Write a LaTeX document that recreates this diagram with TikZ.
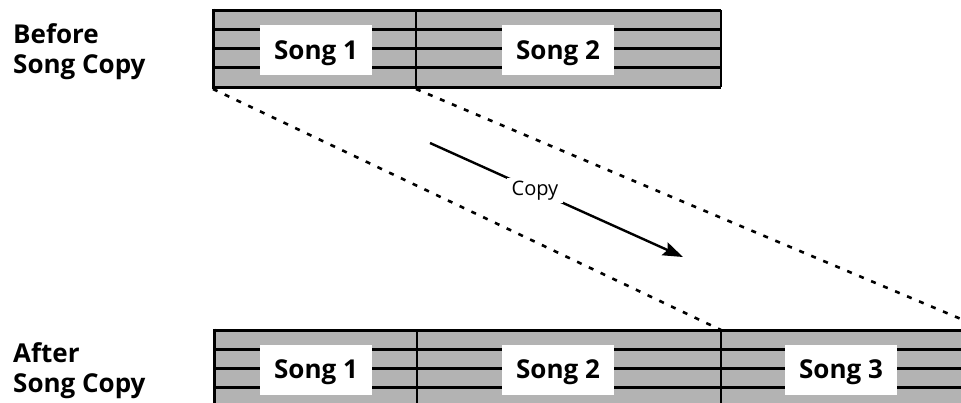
\documentclass[tikz,border=0pt]{standalone}
\usepackage{fontspec}
\setmainfont{Open Sans}
\usetikzlibrary{arrows.meta}
\definecolor{barfill}{RGB}{179,179,179}
\begin{document}
\begin{tikzpicture}[x=1pt,y=-1pt,
  songbox/.style={fill=white, minimum width=112pt, minimum height=50pt, inner sep=0pt,
    font=\fontsize{26}{30}\selectfont\bfseries, text height=18.5pt, text depth=0pt},
  stripe/.style={line width=3pt},
  divider/.style={line width=1.8pt},
  dashline/.style={line width=2.6pt, dash pattern=on 5pt off 8pt},
  sidelabel/.style={anchor=base west, inner sep=0pt, font=\fontsize{26}{30}\selectfont\bfseries},
  copyarrow/.style={line width=2.4pt, -{Stealth[length=20pt,width=14pt,inset=3pt]}},
  copylabel/.style={fill=white, inner xsep=5pt, inner ysep=3pt, font=\fontsize{20}{24}\selectfont}
]
\useasboundingbox (0,0) rectangle (961,402);
\clip (0,0) rectangle (961,402);

% ---- top bar (before)
\fill[barfill] (213,10) rectangle (721,87);
\foreach \y in {10,29.25,48.5,67.75,87} \draw[stripe] (213,\y) -- (721,\y);
\draw[stripe] (213,8.5) -- (213,88.5);
\draw[divider] (416,10) -- (416,87);
\draw[divider] (721,10) -- (721,87);

% ---- bottom bar (after)
\fill[barfill] (214,330) rectangle (975,412);
\foreach \y in {330,349.25,368.5,387.75,407} \draw[stripe] (214,\y) -- (975,\y);
\draw[stripe] (214,328.5) -- (214,412);
\draw[divider] (417,330) -- (417,412);
\draw[divider] (721,330) -- (721,412);

% ---- song labels
\node[songbox] (b1) at (316,50) {Song 1};
\node[songbox] (b2) at (558,50) {Song 2};
\node[songbox] (a1) at (316,369.5) {Song 1};
\node[songbox] (a2) at (558,369.5) {Song 2};
\node[songbox] (a3) at (841,369.5) {Song 3};

% ---- side labels
\node[sidelabel] (before1) at (13,43) {Before};
\node[sidelabel] (before2) at (13,73) {Song Copy};
\node[sidelabel] (after1) at (13,362) {After};
\node[sidelabel] (after2) at (13,392) {Song Copy};

% ---- dashed guide lines
\coordinate (t1) at (213,89);
\coordinate (t2) at (416,89);
\coordinate (u1) at (721,330);
\coordinate (u2) at (987,330);
\draw[dashline] (t1) -- (u1);
\draw[dashline] (t2) -- (u2);

% ---- copy arrow
\coordinate (c0) at (430,143);
\coordinate (c1) at (683,257);
\draw[copyarrow] (c0) -- node[copylabel, pos=0.415] (copylbl) {Copy} (c1);
\end{tikzpicture}
\end{document}
